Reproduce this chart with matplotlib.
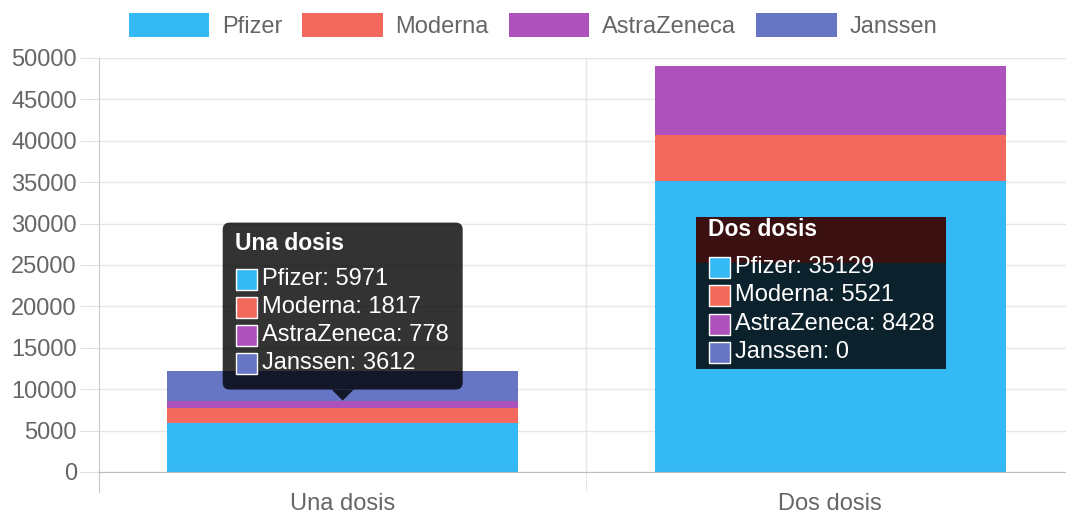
import matplotlib
matplotlib.use("Agg")
import matplotlib.pyplot as plt
from matplotlib.patches import FancyBboxPatch, Rectangle, Polygon
import numpy as np

plt.rcParams['font.family'] = ['Liberation Sans', 'DejaVu Sans']

categories = ['Una dosis', 'Dos dosis']
vaccines = ['Pfizer', 'Moderna', 'AstraZeneca', 'Janssen']
pfizer = [5971, 35129]
moderna = [1817, 5521]
astrazeneca = [778, 8428]
janssen = [3612, 0]
colors = ['#35b9f4', '#f4695e', '#ad52bd', '#6675c4']
series = [pfizer, moderna, astrazeneca, janssen]

W, H = 1066, 514
fig = plt.figure(figsize=(W / 100, H / 100), dpi=100)
# axes box in pixels: left 99, y0 at 472, y50000 at 58
ax = fig.add_axes([99 / W, (H - 472) / H, (1066 - 99) / W, 414 / H])
ax.set_xlim(-0.5, 1.484)
ax.set_ylim(0, 50000)

x = np.arange(len(categories))
bottom = np.zeros(len(categories))
for name, vals, c in zip(vaccines, series, colors):
    ax.bar(x, vals, width=0.72, bottom=bottom, color=c, label=name, zorder=2)
    bottom += np.array(vals)

grey = '#666666'
ax.set_yticks(np.arange(0, 50001, 5000))
ax.yaxis.grid(True, color='#e6e6e6', lw=1, zorder=0)
ax.tick_params(axis='y', length=14, color='#e0e0e0', labelcolor=grey,
               labelsize=17, pad=2)
ax.set_xticks(x)
ax.set_xticklabels(categories)
ax.set_xticks([0.5], minor=True)
ax.tick_params(axis='x', which='major', length=0, labelcolor=grey,
               labelsize=17, pad=15)
ax.tick_params(axis='x', which='minor', length=14, color='#e0e0e0')
ax.axvline(0.5, color='#e6e6e6', lw=1, zorder=0)
for s in ['top', 'right']:
    ax.spines[s].set_visible(False)
ax.spines['bottom'].set_color('#bdbdbd')
ax.spines['left'].set_color('#c8c8c8')
ax.spines['left'].set_bounds(-2400, 50000)

fig.legend(loc='upper center', bbox_to_anchor=(0.5, 1.0), ncol=4, frameon=False,
           fontsize=17, labelcolor=grey, handlelength=3.4, handleheight=1.2,
           handletextpad=0.55, columnspacing=0.85, borderaxespad=0.15)


def tooltip(ybot, ytop, x0, x1, title, rows, bgs, rounded, caret=None,
            title_off=21, row_off=56):
    # pixel coords, measured from the top like the reference
    def py(v):
        return H - v
    if rounded:
        p = FancyBboxPatch((x0, py(ybot)), x1 - x0, ybot - ytop,
                           boxstyle='round,pad=0,rounding_size=7',
                           fc='black', alpha=0.8, ec='none', transform=None, zorder=5)
        fig.patches.append(p)
    else:
        yc = ytop
        for (h, c) in bgs:
            fig.patches.append(Rectangle((x0, py(yc + h)), x1 - x0, h, fc=c,
                                         ec='none', transform=None, zorder=5))
            yc += h
    if caret is not None:
        cx, cy = caret
        fig.patches.append(Polygon([(cx - 11, py(ybot)), (cx + 11, py(ybot)), (cx, py(cy))],
                                   closed=True, fc='black', alpha=0.8, ec='none',
                                   transform=None, zorder=5))
    tx = x0 + 12
    fig.text(tx / W, 1 - (ytop + title_off) / H, title, color='white', fontsize=16.5,
             fontweight='bold', va='center', ha='left', zorder=6)
    for i, (name, val, c) in enumerate(rows):
        yc = ytop + row_off + i * 28.3
        fig.patches.append(Rectangle((tx + 1, py(yc + 11)), 21, 21, fc=c, ec='white',
                                     lw=1, transform=None, zorder=6))
        fig.text((tx + 27) / W, 1 - yc / H, f'{name}: {val}', color='white',
                 fontsize=17, va='center', ha='left', zorder=6)


# caret at mean of the stacked tops (chart.js "average" mode)
cum = np.cumsum(np.array(series), axis=0)
for j, cat in enumerate(categories):
    rows = [(n, series[k][j], colors[k]) for k, n in enumerate(vaccines)]
    disp = ax.transData.transform((x[j], cum[:, j].mean()))
    cx, cy = disp[0], H - disp[1]
    if j == 0:
        tooltip(cy - 11, cy - 178, cx - 120, cx + 120, cat, rows, None,
                True, caret=(cx, cy))
    else:
        tooltip(369, 217, cx - 134, cx + 116, cat, rows,
                [(46, '#3a1010'), (106, '#0b212c')], False,
                title_off=13, row_off=50)

fig.savefig('out.png', dpi=100)
